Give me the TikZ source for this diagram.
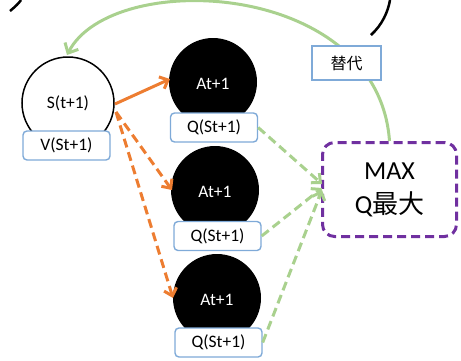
\documentclass[tikz,border=0pt]{standalone}
\usepackage{fontspec}
\setmainfont{Carlito}
\newfontfamily\cjk{Noto Sans CJK SC}
\usetikzlibrary{arrows.meta}
\definecolor{gr}{HTML}{A9D18E}
\definecolor{org}{HTML}{ED7D31}
\definecolor{bl}{HTML}{7FAAD8}
\definecolor{pu}{HTML}{7030A0}
\tikzset{
  txt/.style={font=\fontsize{17.5}{20}\selectfont},
  qbox/.style={draw=bl, line width=1.4pt, rounded corners=4pt, fill=white, minimum width=87pt, minimum height=29pt, inner sep=0pt, txt},
  act/.style={circle, fill=black, minimum size=88pt, inner sep=0pt, text=white, txt},
  orarr/.style={draw=org, line width=3pt, -{Straight Barb[length=7pt,width=13pt]}},
  grarr/.style={draw=gr, line width=3pt, dash pattern=on 9pt off 5pt, -{Straight Barb[length=7pt,width=13pt]}},
}
\begin{document}
\begin{tikzpicture}[x=1pt,y=-1pt]
\useasboundingbox (0,0) rectangle (461,360);
% partial black arcs at top
\draw[line width=2.5pt] (10,11) .. controls (16,6) and (19,3) .. (21,0);
\draw[line width=2.5pt] (371,35) .. controls (382,25) and (388,12) .. (390,0);
% nodes
\node[circle, draw=black, line width=1.5pt, fill=white, minimum size=92pt, inner sep=0pt, txt] (s) at (68,103) {S(t+1)};
\node[qbox] (v) at (66.5,145.5) {V(St+1)};
\node[act] (a1) at (213,82) {};
\node[act] (a2) at (215,190) {};
\node[act] (a3) at (217,298) {};
\node[txt, text=white] at (213,84) {At+1};
\node[txt, text=white] at (215,192) {At+1};
\node[txt, text=white] at (217,300) {At+1};
\node[qbox] (q1) at (214,127.5) {Q(St+1)};
\node[qbox] (q2) at (217.5,236) {Q(St+1)};
\node[qbox] (q3) at (218.5,342.5) {Q(St+1)};
\node[draw=pu, line width=3pt, dash pattern=on 9pt off 5pt, rounded corners=12pt, minimum width=134pt, minimum height=94pt, inner sep=0pt, align=center, font=\fontsize{26}{34}\selectfont, fill=white] (m) at (389.5,189.5) {MAX\\Q{\cjk 最大}};
% green feedback curve
\coordinate (st) at (67,55);
\draw[draw=gr, line width=3pt, -{Straight Barb[length=8pt,width=15pt]}] (m.north) .. controls (378,-20) and (112,-32) .. (st);
\node[draw=bl, line width=1.4pt, fill=white, minimum width=69pt, minimum height=34pt, inner sep=0pt, font=\cjk\fontsize{16}{18}\selectfont] (r) at (346.5,63) {替代};
% orange arrows
\coordinate (sr) at (115,104);
\coordinate (sr2) at (116,112);
\draw[orarr] (sr) -- (170,79);
\draw[orarr, dash pattern=on 9pt off 5pt] (sr2) -- (172,190);
\draw[orarr, dash pattern=on 9pt off 5pt] (sr2) -- (173,298);
% green dashed arrows
\draw[grarr] (q1.east) -- (322,184);
\draw[grarr] (q2.east) -- (322,188);
\draw[grarr] (q3.east) -- (322,190);
\end{tikzpicture}
\end{document}
